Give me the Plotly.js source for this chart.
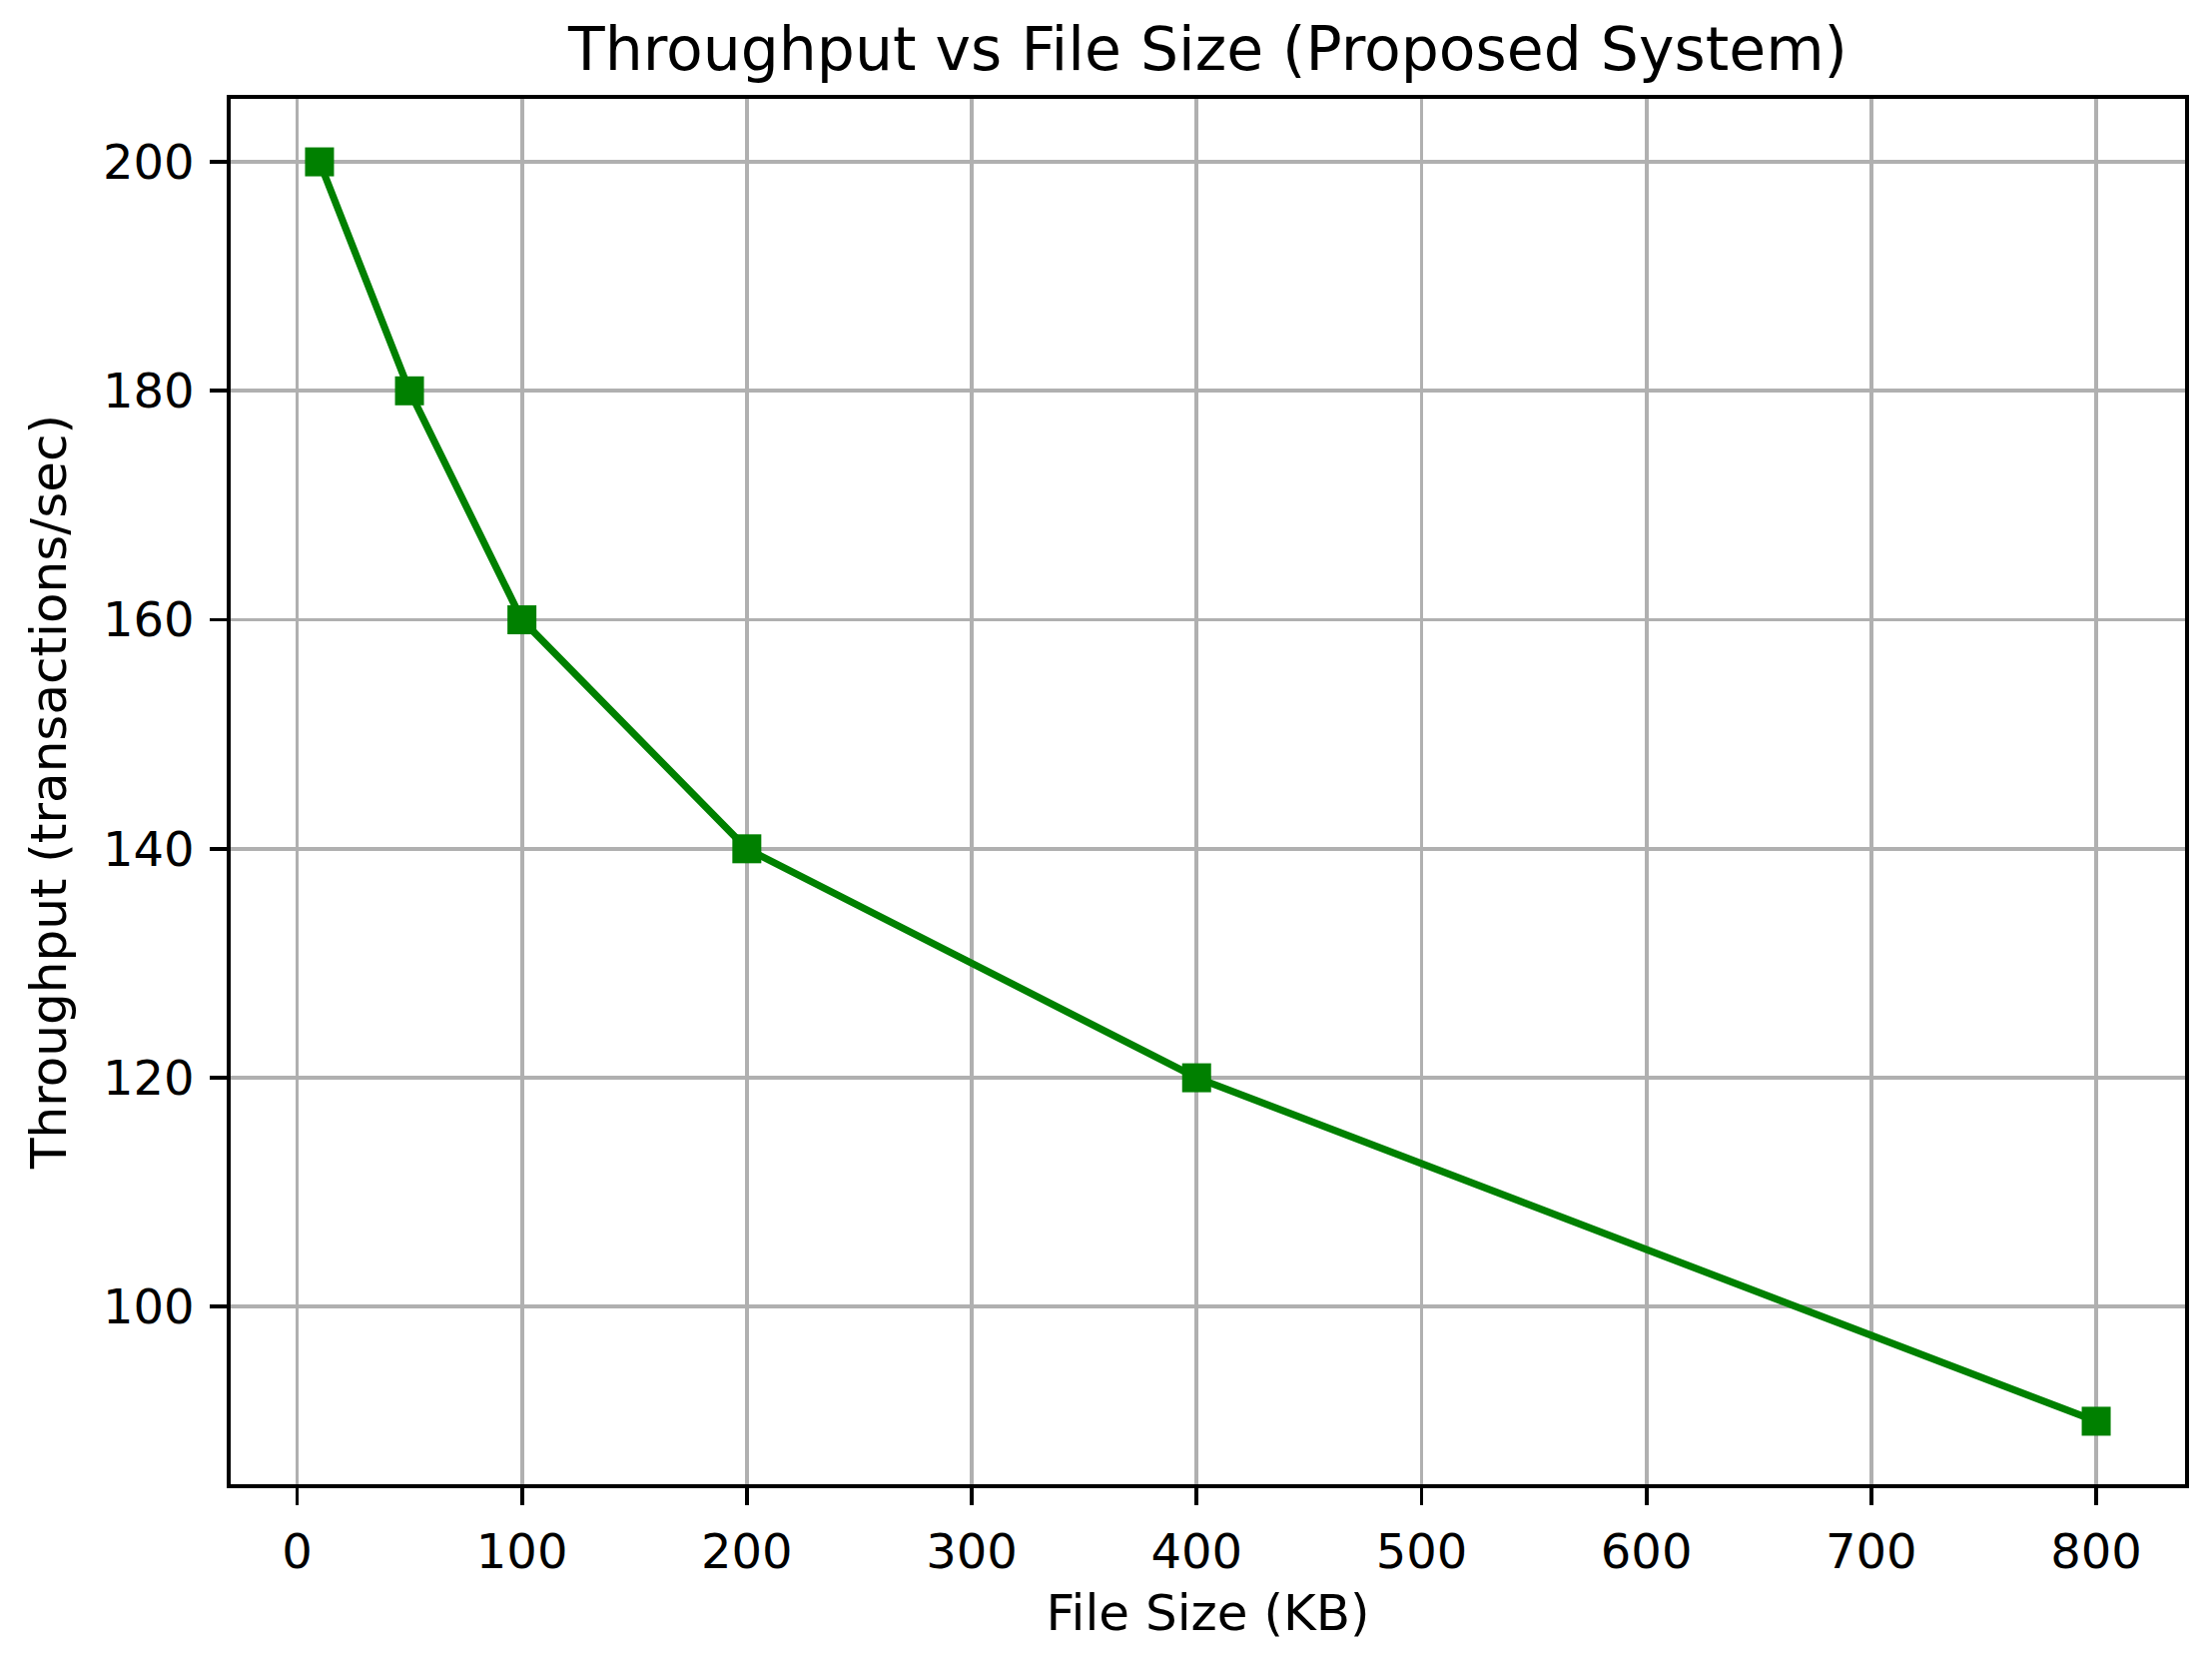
<!DOCTYPE html>
<html>
<head>
<meta charset="utf-8">
<script src="https://cdn.plot.ly/plotly-3.0.1.min.js"></script>
<style>
  html, body { margin: 0; padding: 0; background: #fff; }
  #chart { width: 2215px; height: 1667px; }
</style>
</head>
<body>
<div id="chart"></div>
<script>
// file size in KB and measured throughput
const fileSizes = [10, 50, 100, 200, 400, 800];
const throughput = [200, 180, 160, 140, 120, 90];

const xTicks = [0, 100, 200, 300, 400, 500, 600, 700, 800];
const yTicks = [100, 120, 140, 160, 180, 200];

const font = "DejaVu Sans, sans-serif";

// matplotlib-style 5% margins around the data
function padRange(v) {
  const lo = Math.min(...v), hi = Math.max(...v);
  const m = (hi - lo) * 0.05;
  return [lo - m, hi + m];
}

const axisBase = {
  showline: true,
  mirror: true,
  linecolor: "#000",
  linewidth: 3.8,
  showgrid: true,
  gridcolor: "#b0b0b0",
  gridwidth: 3.8,
  zeroline: false,
  ticks: "outside",
  ticklen: 17,
  tickwidth: 3.8,
  tickcolor: "#000",
  tickfont: { family: font, size: 48, color: "#000" },
};

Plotly.newPlot(
  "chart",
  [
    {
      x: fileSizes,
      y: throughput,
      type: "scatter",
      mode: "lines+markers",
      line: { color: "green", width: 7.2 },
      marker: { symbol: "square", size: 29, color: "green" },
    },
  ],
  {
    width: 2215,
    height: 1667,
    margin: { l: 231, r: 27, t: 99, b: 181 },
    paper_bgcolor: "#fff",
    plot_bgcolor: "#fff",
    showlegend: false,
    title: {
      text: "Throughput vs File Size (Proposed System)",
      font: { family: font, size: 60, color: "#000" },
      x: 0.5,
      xref: "paper",
      y: 1 - 49 / 1667,
      yanchor: "middle",
    },
    xaxis: {
      ...axisBase,
      range: padRange(fileSizes),
      tickvals: xTicks,
      ticklabelstandoff: 6,
      title: {
        text: "File Size (KB)",
        font: { family: font, size: 50, color: "#000" },
        standoff: 17,
      },
    },
    yaxis: {
      ...axisBase,
      range: padRange(throughput),
      tickvals: yTicks,
      ticklabelstandoff: 6,
      title: {
        text: "Throughput (transactions/sec)",
        font: { family: font, size: 50, color: "#000" },
        standoff: 21,
      },
    },
  },
  { staticPlot: true }
);
</script>
</body>
</html>
